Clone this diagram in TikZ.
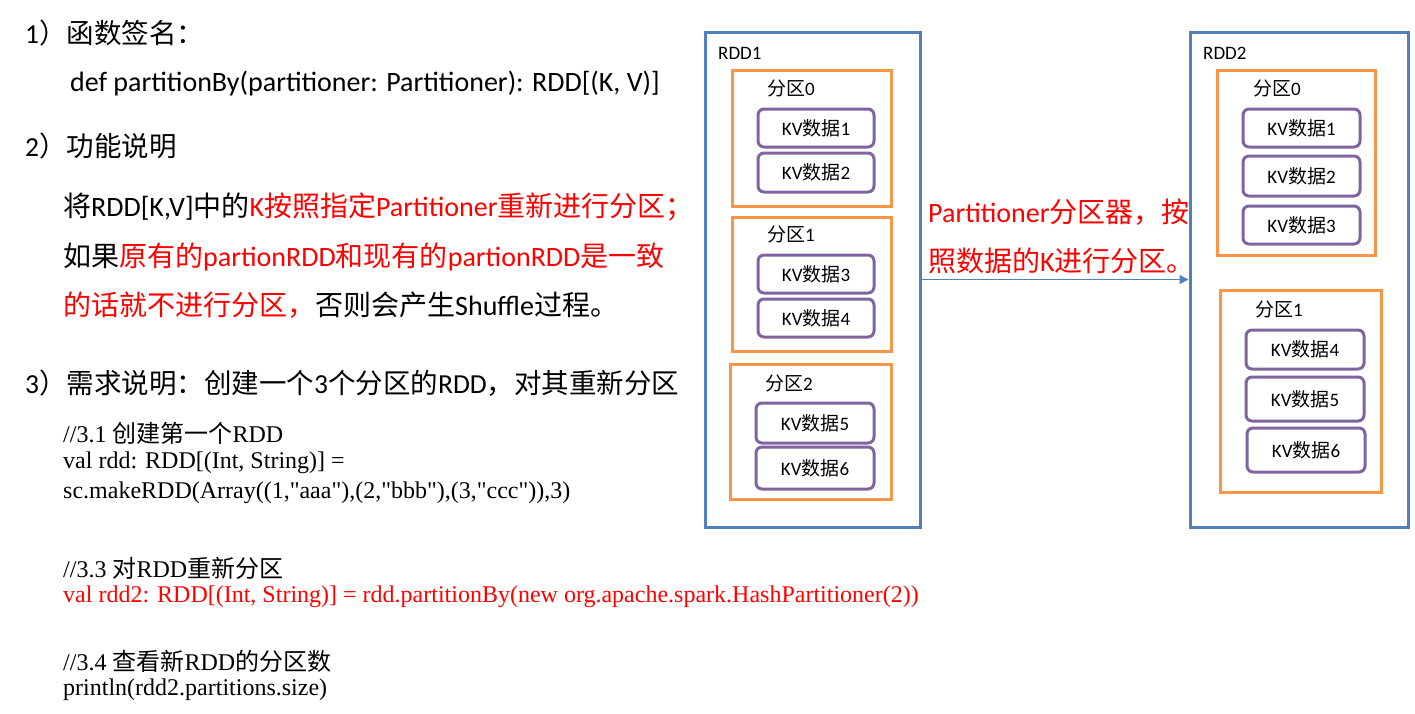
\documentclass[tikz,border=0pt]{standalone}
\usepackage{fontspec}
\usetikzlibrary{arrows.meta}
\setmainfont{Carlito}
\newfontfamily\cjkfont{Noto Sans CJK SC}
\newfontfamily\codefont{Liberation Serif}
\newcommand{\zh}[1]{{\cjkfont #1}}
\definecolor{rddblue}{RGB}{79,129,189}
\definecolor{partorange}{RGB}{247,150,70}
\definecolor{kvpurple}{RGB}{128,100,162}
\definecolor{txtred}{RGB}{255,0,0}
\tikzset{
  rddbox/.style={draw=rddblue, line width=3pt, rectangle, inner sep=0pt},
  partbox/.style={draw=partorange, line width=3pt, rectangle, inner sep=0pt},
  kvbox/.style={draw=kvpurple, line width=3pt, rectangle, rounded corners=6pt, inner sep=0pt, font=\fontsize{19}{22}\selectfont},
  boxlbl/.style={anchor=west, inner sep=0pt, font=\fontsize{19}{22}\selectfont},
  head/.style={anchor=west, inner sep=0pt, font=\fontsize{27.5}{32}\selectfont},
  body/.style={anchor=west, inner sep=0pt, font=\fontsize{28}{32}\selectfont},
  code/.style={anchor=west, inner sep=0pt, font=\fontsize{24}{28}\selectfont\codefont},
}
\begin{document}
\begin{tikzpicture}[x=1pt,y=-1pt]
\useasboundingbox[fill=white] (0,0) rectangle (1415,713);

% left text
\node[head] (t1) at (25,33) {1\zh{）函数签名：}};
\node[body] (t2) at (70,84) {def partitionBy(partitioner: Partitioner): RDD[(K, V)]};
\node[head] (t3) at (25,146) {2\zh{）功能说明}};
\node[body] (t4) at (63,207) {\zh{将}RDD[K,V]\zh{中的}\textcolor{txtred}{K\zh{按照指定}Partitioner\zh{重新进行分区；}}};
\node[body] (t5) at (63,257) {\zh{如果}\textcolor{txtred}{\zh{原有的}partionRDD\zh{和现有的}partionRDD\zh{是一致}}};
\node[body] (t6) at (63,305) {\textcolor{txtred}{\zh{的话就不进行分区，}}\zh{否则会产生}Shuffle\zh{过程。}};
\node[head] (t7) at (25,383) {3\zh{）需求说明：创建一个}3\zh{个分区的}RDD\zh{，对其重新分区}};

\node[code] (c1) at (63,433) {//3.1 \zh{创建第一个}RDD};
\node[code] (c2) at (63,463) {val rdd: RDD[(Int, String)] =};
\node[code] (c3) at (63,493) {sc.makeRDD(Array((1,"aaa"),(2,"bbb"),(3,"ccc")),3)};
\node[code] (c4) at (63,568) {//3.3 \zh{对}RDD\zh{重新分区}};
\node[code, text=txtred] (c5) at (63,597) {val rdd2: RDD[(Int, String)] = rdd.partitionBy(new org.apache.spark.HashPartitioner(2))};
\node[code] (c6) at (63,661) {//3.4 \zh{查看新}RDD\zh{的分区数}};
\node[code] (c7) at (63,690) {println(rdd2.partitions.size)};

% RDD1
\node[rddbox, minimum width=215, minimum height=495] (rdd1) at (812.5,279.5) {};
\node[boxlbl] (rdd1l) at (718,53) {RDD1};
\node[partbox, minimum width=159, minimum height=136] (p10) at (811.5,138) {};
\node[boxlbl] (p10l) at (767,88) {\zh{分区}0};
\node[kvbox, minimum width=116, minimum height=38] (a1) at (816,128) {KV\zh{数据}1};
\node[kvbox, minimum width=116, minimum height=39] (a2) at (816,172.5) {KV\zh{数据}2};
\node[partbox, minimum width=159, minimum height=134] (p11) at (811.5,284) {};
\node[boxlbl] (p11l) at (767,234) {\zh{分区}1};
\node[kvbox, minimum width=116, minimum height=38] (a3) at (816,274) {KV\zh{数据}3};
\node[kvbox, minimum width=116, minimum height=38] (a4) at (816,318) {KV\zh{数据}4};
\node[partbox, minimum width=161, minimum height=135] (p12) at (810.5,431.5) {};
\node[boxlbl] (p12l) at (765,383) {\zh{分区}2};
\node[kvbox, minimum width=118, minimum height=40] (a5) at (815,423) {KV\zh{数据}5};
\node[kvbox, minimum width=118, minimum height=42] (a6) at (815,468) {KV\zh{数据}6};

% RDD2
\node[rddbox, minimum width=218, minimum height=495] (rdd2) at (1299,279.5) {};
\node[boxlbl] (rdd2l) at (1203,53) {RDD2};
\node[partbox, minimum width=158, minimum height=185] (p20) at (1296,162.5) {};
\node[boxlbl] (p20l) at (1253,88) {\zh{分区}0};
\node[kvbox, minimum width=117, minimum height=38] (b1) at (1301.5,128) {KV\zh{数据}1};
\node[kvbox, minimum width=117, minimum height=40] (b2) at (1301.5,176) {KV\zh{数据}2};
\node[kvbox, minimum width=117, minimum height=38] (b3) at (1301.5,225) {KV\zh{数据}3};
\node[partbox, minimum width=161, minimum height=202] (p21) at (1300.5,391) {};
\node[boxlbl] (p21l) at (1255,309) {\zh{分区}1};
\node[kvbox, minimum width=118, minimum height=39] (b4) at (1305,349.5) {KV\zh{数据}4};
\node[kvbox, minimum width=118, minimum height=44] (b5) at (1305,399) {KV\zh{数据}5};
\node[kvbox, minimum width=118, minimum height=44] (b6) at (1306,450) {KV\zh{数据}6};

% arrow
\draw[draw=rddblue, line width=1.5pt, -{Triangle[length=9pt,width=9pt]}] (rdd1.east) -- (rdd2.west);
\node[body, text=txtred] (l1) at (928,212) {Partitioner\zh{分区器，按}};
\node[body, text=txtred] (l2) at (928,261) {\zh{照数据的}K\zh{进行分区。}};
\end{tikzpicture}
\end{document}
